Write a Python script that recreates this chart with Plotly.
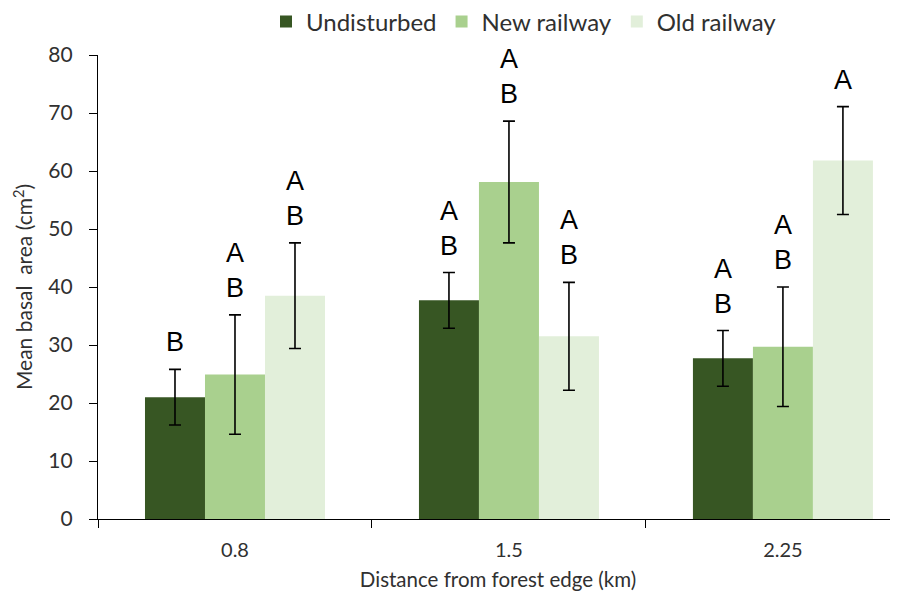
import plotly.graph_objects as go

categories = ["0.8", "1.5", "2.25"]
series_names = ["Undisturbed", "New railway", "Old railway"]
undisturbed = [21.0, 37.7, 27.7]
new_railway = [24.9, 58.1, 29.7]
old_railway = [38.5, 31.5, 61.8]
undisturbed_err = [4.8, 4.8, 4.8]
new_railway_err = [10.3, 10.5, 10.3]
old_railway_err = [9.1, 9.3, 9.3]
letters_undisturbed = ["B", "A<br>B", "A<br>B"]
letters_new = ["A<br>B", "A<br>B", "A<br>B"]
letters_old = ["A<br>B", "A<br>B", "A"]

colors = ["#375623", "#a9d08e", "#e2efda"]
values = [undisturbed, new_railway, old_railway]
errors = [undisturbed_err, new_railway_err, old_railway_err]
letters = [letters_undisturbed, letters_new, letters_old]

TXT = "#303030"
FONT = "Lato, Open Sans, sans-serif"
OFF = 8  # default page body margin
W, H = 898 - OFF, 607 - OFF

fig = go.Figure()
for name, vals, errs, col in zip(series_names, values, errors, colors):
    fig.add_trace(go.Bar(
        x=categories, y=vals, name=name,
        marker=dict(color=col, line=dict(width=0)),
        error_y=dict(type="data", array=errs, color="black", thickness=1.6, width=6),
    ))

shifts = [-60, 0, 60]
annotations = []
for s, (vals, errs, labs) in enumerate(zip(values, errors, letters)):
    for c in range(len(categories)):
        annotations.append(dict(
            x=c, y=vals[c] + errs[c], xref="x", yref="y",
            text=labs[c], showarrow=False, xshift=shifts[s], yshift=10,
            yanchor="bottom", xanchor="center",
            font=dict(family="Liberation Sans, Arial, sans-serif", size=27, color="black"),
        ))

fig.update_layout(
    width=W, height=H,
    margin=dict(l=98 - OFF, r=0, t=55 - OFF, b=88, autoexpand=False),
    paper_bgcolor="white", plot_bgcolor="white",
    barmode="group", bargap=0.343, bargroupgap=0,
    font=dict(family=FONT, size=18, color=TXT),
    showlegend=True,
    legend=dict(orientation="h", x=0.5325, xanchor="center",
                yref="container", y=1 - (22 - OFF) / H, yanchor="middle",
                font=dict(family=FONT, size=24, color=TXT), itemwidth=30,
                traceorder="normal"),
    annotations=annotations,
)

fig.update_xaxes(
    type="category", range=[-0.5, 2.42], automargin=False,
    showline=True, linecolor="black", linewidth=1.2,
    ticks="outside", tickson="boundaries", ticklen=8, tickcolor="black",
    tickfont=dict(family=FONT, size=20, color=TXT),
    ticklabelstandoff=13,
    title=dict(text="Distance from forest edge (km)", font=dict(family=FONT, size=20.5, color=TXT), standoff=12),
    showgrid=False, zeroline=False,
)
fig.update_yaxes(
    range=[0, 80], dtick=10, automargin=False,
    showline=True, linecolor="black", linewidth=1.2,
    ticks="outside", ticklen=8, tickcolor="black",
    tickfont=dict(family=FONT, size=21, color=TXT),
    ticklabelstandoff=12,
    title=dict(text="Mean basal  area (cm<sup>2</sup>)", font=dict(family=FONT, size=21, color=TXT), standoff=9),
    showgrid=False, zeroline=False,
)

fig.write_html("out.html")
